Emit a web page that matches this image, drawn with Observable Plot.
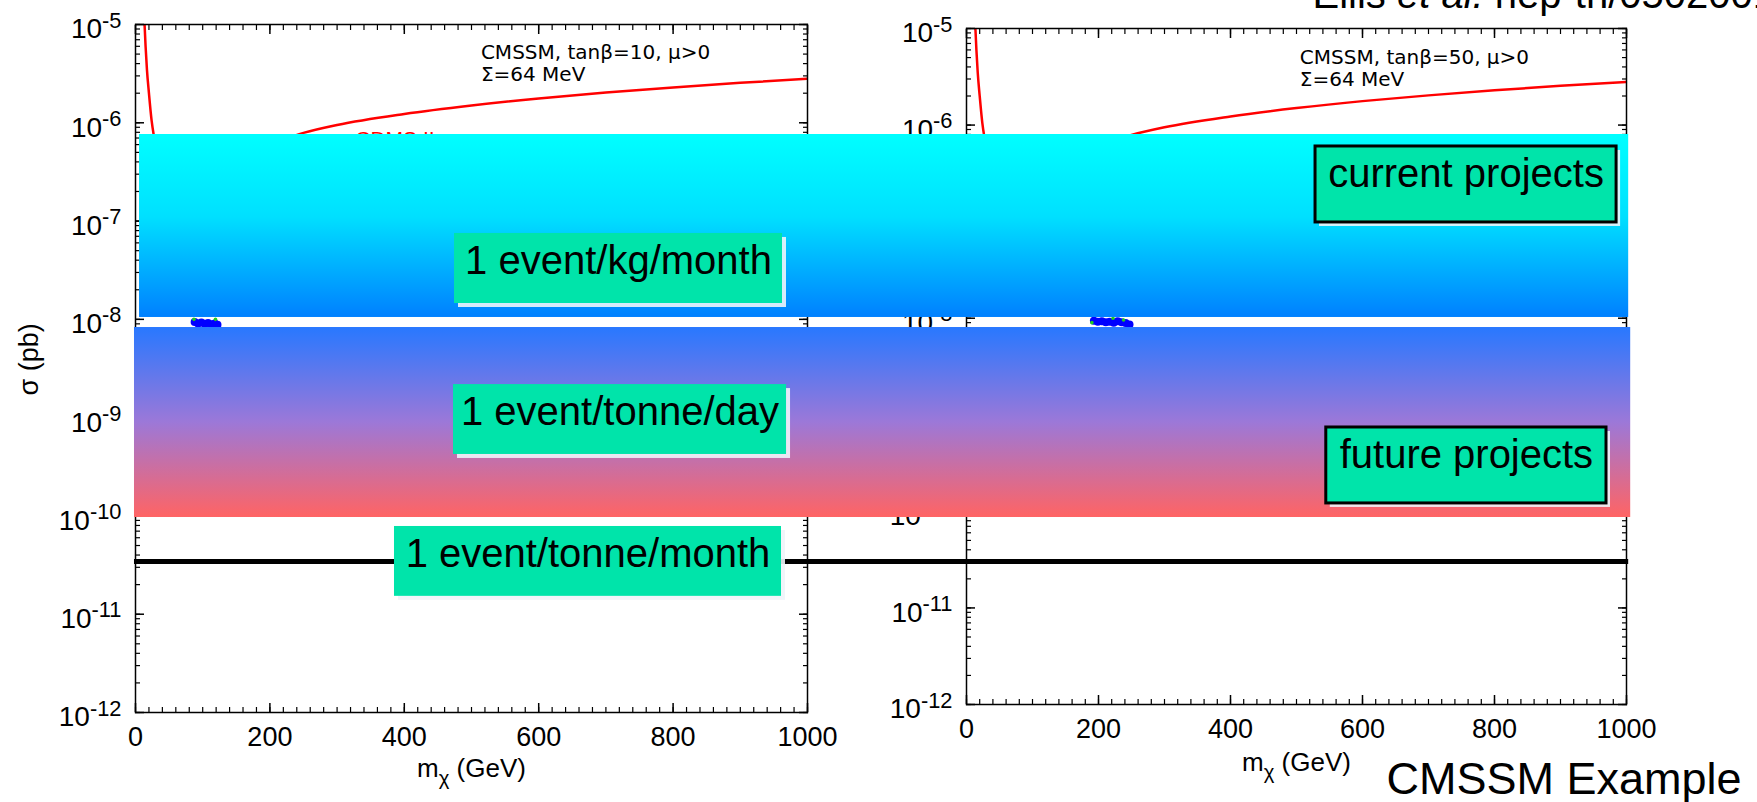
<!DOCTYPE html>
<html><head><meta charset="utf-8">
<script src="https://cdn.jsdelivr.net/npm/d3@7"></script>
<script src="https://cdn.jsdelivr.net/npm/@observablehq/plot@0.6"></script>
<style>
html,body{margin:0;padding:0;background:#fff;overflow:hidden}
#stage{position:relative;width:1757px;height:802px}
#stage svg{position:absolute;left:0;top:0}
</style></head><body><div id="stage"></div>
<script>
const W = 1757, H = 802;
const FONT = '"Liberation Sans", Arial, Helvetica, sans-serif';
const WIDE = '"DejaVu Sans", Verdana, sans-serif';

// ---------------- data ----------------
const massTicks = [0, 200, 400, 600, 800, 1000];
const sigmaDecades = [1e-12, 1e-11, 1e-10, 1e-9, 1e-8, 1e-7, 1e-6, 1e-5];

// CDMS II limit (red curve), same in both panels
const cdmsMass  = [13.5, 15, 17, 20, 24, 27, 32, 40, 50, 60, 80, 100, 150, 200, 250, 300, 400, 500, 600, 700, 800, 900, 1000];
const cdmsSigma = [1.0e-5, 6.0e-6, 3.5e-6, 2.0e-6, 1.05e-6, 7.6e-7, 5.3e-7, 4.0e-7, 3.5e-7, 3.3e-7, 3.4e-7, 3.7e-7, 4.7e-7, 6.1e-7, 7.9e-7, 9.5e-7, 1.23e-6, 1.5e-6, 1.77e-6, 2.03e-6, 2.29e-6, 2.55e-6, 2.8e-6];

const panelLegends = ["CMSSM, tanβ=10, μ>0\nΣ=64 MeV", "CMSSM, tanβ=50, μ>0\nΣ=64 MeV"];
const legendMass = [514, 505];
const legendSigma = [6.4e-6, 6.2e-6];

// CMSSM model points visible between the two bands
const blueMassL  = [88, 93, 98, 103, 108, 113, 118, 122];
const blueSigmaL = [9.4e-9, 9.1e-9, 9.3e-9, 9.0e-9, 9.2e-9, 8.9e-9, 9.1e-9, 8.8e-9];
const greenMassL = [87, 119];
const greenSigmaL = [1.0e-8, 1.0e-8];
const blueMassR  = [193, 199, 205, 211, 217, 223, 229, 235, 241, 247];
const blueSigmaR = [9.4e-9, 9.2e-9, 9.3e-9, 9.1e-9, 9.2e-9, 9.0e-9, 9.3e-9, 9.1e-9, 8.9e-9, 8.6e-9];
const greenMassR = [190, 222, 238];
const greenSigmaR = [9.0e-9, 1.0e-8, 9.6e-9];

// overlay annotations (in left-panel units: GeV, pb)
const bandNames  = ["current projects", "future projects"];
const bandMass1  = [6, -1.5];
const bandMass2  = [2222, 2225];
const bandTop    = [7.6e-7, 8.26e-9];
const bandBottom = [1.045e-8, 9.64e-11];

const rateLineLabel = "1 event/tonne/month";
const rateLineSigma = [3.44e-11];
const rateLineMass1 = -1.5, rateLineMass2 = 2222;

const boxLabels = ["1 event/kg/month", "1 event/tonne/day", "1 event/tonne/month", "current projects", "future projects"];
const boxMass1  = [474.7, 473.2, 385.4, 1756, 1772];
const boxMass2  = [962.8, 968.8, 961.3, 2204, 2189];
const boxTop    = [7.48e-8, 2.17e-9, 7.81e-11, 5.74e-7, 7.94e-10];
const boxBottom = [1.45e-8, 4.22e-10, 1.52e-11, 9.68e-8, 1.34e-10];
const boxFramed = [false, false, false, true, true];

const sourceText = "Ellis et al. hep-th/0502001";
const footerText = "CMSSM Example";

// ---------------- helpers ----------------
const NS = "http://www.w3.org/2000/svg";
function richText(svg) {
  svg.querySelectorAll("text").forEach(t => {
    if (t.querySelector("tspan")) return;
    const s = t.textContent;
    if (s.includes("et al.")) {
      const i = s.indexOf("et al.");
      t.textContent = "";
      t.appendChild(document.createTextNode(s.slice(0, i)));
      const it = document.createElementNS(NS, "tspan");
      it.setAttribute("font-style", "italic");
      it.textContent = "et al.";
      t.appendChild(it);
      t.appendChild(document.createTextNode(s.slice(i + 6)));
      return;
    }
    const m = s.match(/^([^\^_]*)([\^_])(-?\d+|.)(.*)$/u);
    if (!m) return;
    const [, a, op, b, rest] = m;
    const up = op === "^";
    t.textContent = "";
    t.appendChild(document.createTextNode(a));
    const ts = document.createElementNS(NS, "tspan");
    ts.setAttribute("font-size", "78%");
    ts.setAttribute("dy", up ? "-0.5em" : "0.4em");
    ts.textContent = b;
    t.appendChild(ts);
    if (rest) {
      const r = document.createElementNS(NS, "tspan");
      r.setAttribute("dy", up ? "0.39em" : "-0.31em");
      r.textContent = rest;
      t.appendChild(r);
    }
  });
  return svg;
}

const rows = (xs, ys) => xs.map((m, i) => ({m, s: ys[i]}));
const noText = () => "";

function panel(o) {
  return Plot.plot({
    width: W, height: H,
    marginLeft: o.left, marginRight: W - o.right, marginTop: o.top, marginBottom: H - o.bottom,
    style: {fontFamily: FONT, background: "transparent", color: "#000", overflow: "visible"},
    x: {domain: [0, 1000]},
    y: {type: "log", domain: [1e-12, 1e-5]},
    marks: [
      Plot.line(rows(cdmsMass, cdmsSigma), {x: "m", y: "s", stroke: "#ff0000", strokeWidth: 2.5, curve: "monotone-x", clip: true}),
      o.cdmsLabel ? Plot.text(["CDMS II"], {x: 327, y: 6.8e-7, textAnchor: "start", fill: "#ff0000", fontSize: 21}) : null,
      Plot.dot(o.blue, {x: "m", y: "s", r: 4, fill: "#0000ff", stroke: "none"}),
      Plot.dot(o.green, {x: "m", y: "s", r: 1.8, fill: "#22cc22", stroke: "none"}),
      Plot.frame({stroke: "#000", strokeWidth: 1.5}),
      Plot.axisX({anchor: "bottom", ticks: 50, tickSize: 5, dy: -5, tickFormat: noText, label: null, strokeWidth: 1.2}),
      Plot.axisX(massTicks, {anchor: "bottom", tickSize: 9, dy: -9, tickFormat: noText, label: null, strokeWidth: 1.5}),
      Plot.axisX({anchor: "top", ticks: 50, tickSize: 5, dy: 5, tickFormat: noText, label: null, strokeWidth: 1.2}),
      Plot.axisX(massTicks, {anchor: "top", tickSize: 9, dy: 9, tickFormat: noText, label: null, strokeWidth: 1.5}),
      Plot.axisX(massTicks, {anchor: "bottom", tickSize: 0, tickPadding: 14, fontSize: 27, label: null, tickFormat: d => String(d)}),
      Plot.axisY({anchor: "left", ticks: 100, tickSize: 5, dx: 5, tickFormat: noText, label: null, strokeWidth: 1.2}),
      Plot.axisY(sigmaDecades, {anchor: "left", tickSize: 9, dx: 9, tickFormat: noText, label: null, strokeWidth: 1.5}),
      Plot.axisY({anchor: "right", ticks: 100, tickSize: 5, dx: -5, tickFormat: noText, label: null, strokeWidth: 1.2}),
      Plot.axisY(sigmaDecades, {anchor: "right", tickSize: 9, dx: -9, tickFormat: noText, label: null, strokeWidth: 1.5}),
      Plot.axisY(sigmaDecades, {anchor: "left", tickSize: 0, tickPadding: 14, fontSize: 28, dy: 5,
        tickFormat: d => "10^" + Math.round(Math.log10(d)), label: null}),
      Plot.text([o.legend], {x: o.legendX, y: o.legendY, textAnchor: "start", lineAnchor: "top", fontSize: 20, lineHeight: 1.1, fontFamily: WIDE}),
      Plot.text(["m_χ (GeV)"], {frameAnchor: "bottom", dy: o.titleDy, fontSize: 26}),
      o.ylabel ? Plot.text([o.ylabel], {frameAnchor: "left", dx: -106, dy: 27, rotate: -90, fontSize: 27}) : null
    ].filter(Boolean)
  });
}

function gradientDefs() {
  const defs = document.createElementNS(NS, "defs");
  const add = (id, stops) => {
    const g = document.createElementNS(NS, "linearGradient");
    g.setAttribute("id", id);
    g.setAttribute("x1", "0"); g.setAttribute("y1", "0");
    g.setAttribute("x2", "0"); g.setAttribute("y2", "1");
    stops.forEach(([o, c]) => {
      const s = document.createElementNS(NS, "stop");
      s.setAttribute("offset", o);
      s.setAttribute("stop-color", c);
      g.appendChild(s);
    });
    defs.appendChild(g);
  };
  add("gradCurrent", [[0, "#00ffff"], [0.45, "#00e0ff"], [1, "#0080ff"]]);
  add("gradFuture", [[0, "#2878ff"], [0.5, "#9c78d8"], [1, "#ff6464"]]);
  return defs;
}

// ---------------- build ----------------
const stage = document.getElementById("stage");

const left = panel({left: 135, right: 807, top: 24, bottom: 712,
  legend: panelLegends[0], legendX: legendMass[0], legendY: legendSigma[0],
  blue: rows(blueMassL, blueSigmaL), green: rows(greenMassL, greenSigmaL),
  ylabel: "σ (pb)", titleDy: 64, cdmsLabel: true});
const right = panel({left: 966, right: 1626, top: 28, bottom: 704,
  legend: panelLegends[1], legendX: legendMass[1], legendY: legendSigma[1],
  blue: rows(blueMassR, blueSigmaR), green: rows(greenMassR, greenSigmaR),
  ylabel: null, titleDy: 66, cdmsLabel: false});

const bands = bandNames.map((name, i) => ({name, x1: bandMass1[i], x2: bandMass2[i], y1: bandTop[i], y2: bandBottom[i]}));
const boxes = boxLabels.map((label, i) => ({label, x1: boxMass1[i], x2: boxMass2[i], y1: boxTop[i], y2: boxBottom[i], framed: boxFramed[i]}));
const rateLine = rateLineSigma.map(s => ({label: rateLineLabel, s, x1: rateLineMass1, x2: rateLineMass2}));

const overlay = Plot.plot({
  width: W, height: H,
  marginLeft: 135, marginRight: W - 807, marginTop: 24, marginBottom: H - 712,
  style: {fontFamily: FONT, background: "transparent", color: "#000", overflow: "visible"},
  x: {domain: [0, 1000], axis: null},
  y: {type: "log", domain: [1e-12, 1e-5], axis: null},
  marks: [
    gradientDefs,
    Plot.rect(bands.filter(d => d.name === "current projects"), {x1: "x1", x2: "x2", y1: "y1", y2: "y2", fill: "url(#gradCurrent)"}),
    Plot.rect(bands.filter(d => d.name === "future projects"), {x1: "x1", x2: "x2", y1: "y1", y2: "y2", fill: "url(#gradFuture)"}),
    Plot.ruleY(rateLine, {y: "s", x1: "x1", x2: "x2", stroke: "#000", strokeWidth: 5}),
    Plot.rect(boxes, {x1: "x1", x2: "x2", y1: "y1", y2: "y2", fill: "#eef4fa", fillOpacity: 0.9, dx: 4, dy: 4}),
    Plot.rect(boxes.filter(d => !d.framed), {x1: "x1", x2: "x2", y1: "y1", y2: "y2", fill: "#00e4aa"}),
    Plot.rect(boxes.filter(d => d.framed), {x1: "x1", x2: "x2", y1: "y1", y2: "y2", fill: "#00e4aa", stroke: "#000", strokeWidth: 3}),
    Plot.text(boxes, {x: d => (d.x1 + d.x2) / 2, y: "y1", text: "label", lineAnchor: "top", dy: 12, fontSize: 40}),
    Plot.text([sourceText], {frameAnchor: "top-left", dx: 1177, dy: -17, textAnchor: "start", lineAnchor: "bottom", fontSize: 40}),
    Plot.text([footerText], {frameAnchor: "bottom-left", dx: 1251, dy: 81, textAnchor: "start", lineAnchor: "bottom", fontSize: 45})
  ]
});

stage.appendChild(richText(left));
stage.appendChild(richText(right));
stage.appendChild(richText(overlay));
</script>
</body></html>
